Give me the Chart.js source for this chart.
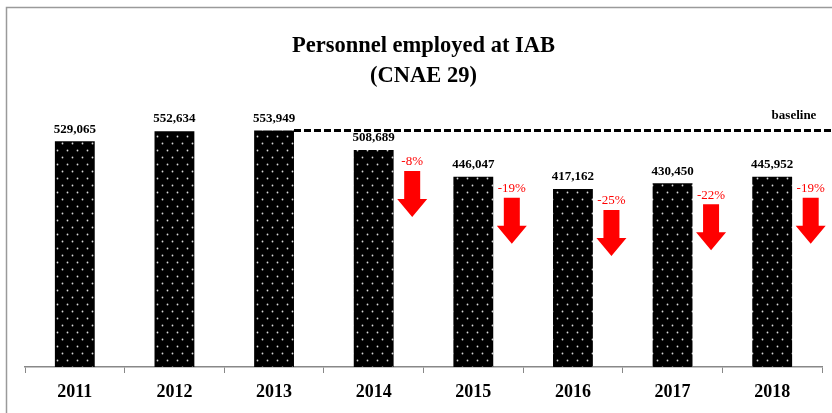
<!DOCTYPE html>
<html>
<head>
<meta charset="utf-8">
<script src="https://cdn.jsdelivr.net/npm/chart.js@4/dist/chart.umd.min.js"></script>
<style>
html,body{margin:0;padding:0;background:#fff;}
#wrap{width:832px;height:413px;position:relative;}
</style>
</head>
<body>
<div id="wrap"><canvas id="c"></canvas></div>
<script>
// ---- data ----
const years = ['2011','2012','2013','2014','2015','2016','2017','2018'];
const employed = [529065, 552634, 553949, 508689, 446047, 417162, 430450, 445952];
const changeLabels = [null, null, null, '-8%', '-19%', '-25%', '-22%', '-19%'];
const baselineIndex = 2;
const baselineLabel = 'baseline';
const titleLines = ['Personnel employed at IAB', '(CNAE 29)'];

// dotted pattern
function makePattern() {
  const p = document.createElement('canvas');
  p.width = 10; p.height = 14;
  const g = p.getContext('2d');
  g.fillStyle = '#000'; g.fillRect(0, 0, 10, 14);
  g.fillStyle = '#d8d8d8';
  g.beginPath(); g.arc(2.5, 3.5, 0.9, 0, Math.PI * 2); g.fill();
  g.beginPath(); g.arc(7.5, 10.5, 0.9, 0, Math.PI * 2); g.fill();
  return document.getElementById('c').getContext('2d').createPattern(p, 'repeat');
}

const fmt = v => v.toLocaleString('en-US');

const frame = {
  id: 'frame',
  beforeDraw(chart) {
    const ctx = chart.ctx;
    ctx.save();
    ctx.strokeStyle = '#9a9a9a';
    ctx.lineWidth = 1.5;
    ctx.beginPath();
    ctx.moveTo(6.5, chart.height);
    ctx.lineTo(6.5, 7.5);
    ctx.lineTo(chart.width, 7.5);
    ctx.stroke();
    ctx.restore();
  }
};

const annotations = {
  id: 'annotations',
  afterDatasetsDraw(chart) {
    const ctx = chart.ctx;
    const meta = chart.getDatasetMeta(0);
    const yS = chart.scales.y;
    ctx.save();
    // value labels
    ctx.fillStyle = '#000';
    ctx.font = 'bold 13px "Liberation Serif", "Times New Roman", serif';
    ctx.textAlign = 'center';
    ctx.textBaseline = 'middle';
    meta.data.forEach((bar, i) => {
      ctx.fillText(fmt(employed[i]), bar.x, bar.y - 12);
    });
    // baseline dashed line
    const bb = meta.data[baselineIndex];
    const by = yS.getPixelForValue(employed[baselineIndex]);
    ctx.strokeStyle = '#000';
    ctx.lineWidth = 3;
    ctx.setLineDash([7, 3]);
    ctx.beginPath();
    ctx.moveTo(bb.x + bb.width / 2, by);
    ctx.lineTo(chart.width, by);
    ctx.stroke();
    ctx.setLineDash([]);
    ctx.font = 'bold 13px "Liberation Serif", "Times New Roman", serif';
    ctx.textAlign = 'center';
    ctx.fillText(baselineLabel, 794, by - 15);
    // arrows + percentages
    meta.data.forEach((bar, i) => {
      const lab = changeLabels[i];
      if (!lab) return;
      const cx = bar.x + 38.5;
      const top = bar.y + 21;
      ctx.fillStyle = '#ff0000';
      ctx.font = '13px "Liberation Serif", "Times New Roman", serif';
      ctx.textAlign = 'center';
      ctx.fillText(lab, cx, bar.y + 12);
      ctx.beginPath();
      ctx.moveTo(cx - 8, top);
      ctx.lineTo(cx + 8, top);
      ctx.lineTo(cx + 8, top + 28);
      ctx.lineTo(cx + 15, top + 28);
      ctx.lineTo(cx, top + 46);
      ctx.lineTo(cx - 15, top + 28);
      ctx.lineTo(cx - 8, top + 28);
      ctx.closePath();
      ctx.fill();
    });
    ctx.restore();
  }
};

new Chart(document.getElementById('c'), {
  type: 'bar',
  data: {
    labels: years,
    datasets: [{
      data: employed,
      backgroundColor: makePattern(),
      borderWidth: 0,
      barPercentage: 0.4,
      categoryPercentage: 1.0
    }]
  },
  options: {
    responsive: true,
    maintainAspectRatio: false,
    animation: false,
    layout: { padding: { left: 25, right: 10, top: 0, bottom: 2 } },
    plugins: {
      legend: { display: false },
      tooltip: { enabled: false },
      title: {
        display: true,
        text: titleLines,
        color: '#000',
        font: { family: '"Liberation Serif", "Times New Roman", serif', size: 22.5, weight: 'bold', lineHeight: 1.33 },
        padding: { top: 31, bottom: 3 }
      }
    },
    scales: {
      x: {
        grid: { display: true, drawOnChartArea: false, drawTicks: true, tickLength: 6, color: '#888', offset: true },
        border: { display: true, color: '#888', width: 1.5 },
        ticks: {
          color: '#000',
          padding: 10,
          font: { family: '"Liberation Serif", "Times New Roman", serif', size: 18, weight: 'bold', lineHeight: 1.0 }
        }
      },
      y: {
        display: false,
        min: 0,
        max: 640000
      }
    }
  },
  plugins: [frame, annotations]
});
</script>
</body>
</html>
